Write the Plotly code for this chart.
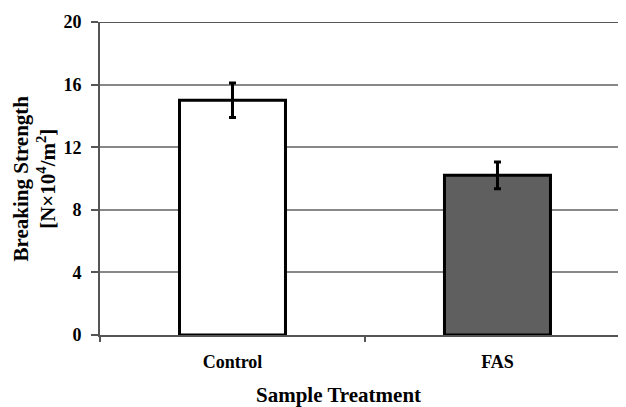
import plotly.graph_objects as go

categories = ["Control", "FAS"]
values = [15.0, 10.2]
errors = [1.1, 0.85]
bar_colors = ["#ffffff", "#5f5f5f"]
y_ticks = [0, 4, 8, 12, 16, 20]

font_family = "Liberation Serif"

fig = go.Figure()
fig.add_trace(go.Bar(
    x=categories, y=values, width=0.4,
    marker=dict(color=bar_colors, line=dict(color="#000000", width=3)),
    error_y=dict(type="data", array=errors, visible=True, color="#000000",
                 thickness=3, width=3.5),
))

fig.update_layout(
    width=618, height=399,
    margin=dict(l=92, r=0, t=14, b=72),
    paper_bgcolor="white", plot_bgcolor="white",
    showlegend=False,
    font=dict(family=font_family, color="#000000"),
    xaxis=dict(
        range=[-0.5, 1.485], automargin=False,
        showline=True, linecolor="#555555", linewidth=2,
        ticks="outside", tickson="boundaries", ticklen=5, tickcolor="#555555", tickwidth=1.5,
        tickfont=dict(family=font_family, size=18, weight="bold"),
        ticklabelstandoff=9,
        showgrid=False,
    ),
    yaxis=dict(
        range=[0, 20], tickvals=y_ticks, automargin=False,
        showline=True, linecolor="#555555", linewidth=2,
        ticks="outside", ticklen=7, tickcolor="#555555", tickwidth=1.5,
        showgrid=True, gridcolor="#888888", gridwidth=1.5,
        zeroline=False,
        tickfont=dict(family=font_family, size=18, weight="bold"),
        ticklabelstandoff=6,
    ),
    annotations=[
        dict(text="Sample Treatment", xref="paper", yref="paper", x=0.454, y=0,
             xanchor="center", yanchor="middle", yshift=-60, showarrow=False,
             font=dict(family=font_family, size=21, weight="bold")),
        dict(text="Breaking Strength<br>[N×10<sup>4</sup>/m<sup>2</sup>]", xref="paper", yref="paper",
             x=0, y=0.5, xanchor="center", yanchor="middle", xshift=-66, textangle=-90,
             showarrow=False, font=dict(family=font_family, size=21, weight="bold")),
    ],
)
fig.add_shape(type="line", xref="paper", yref="y", x0=0, x1=1, y0=20, y1=20,
              line=dict(color="#555555", width=2))

fig.write_html("out.html")
